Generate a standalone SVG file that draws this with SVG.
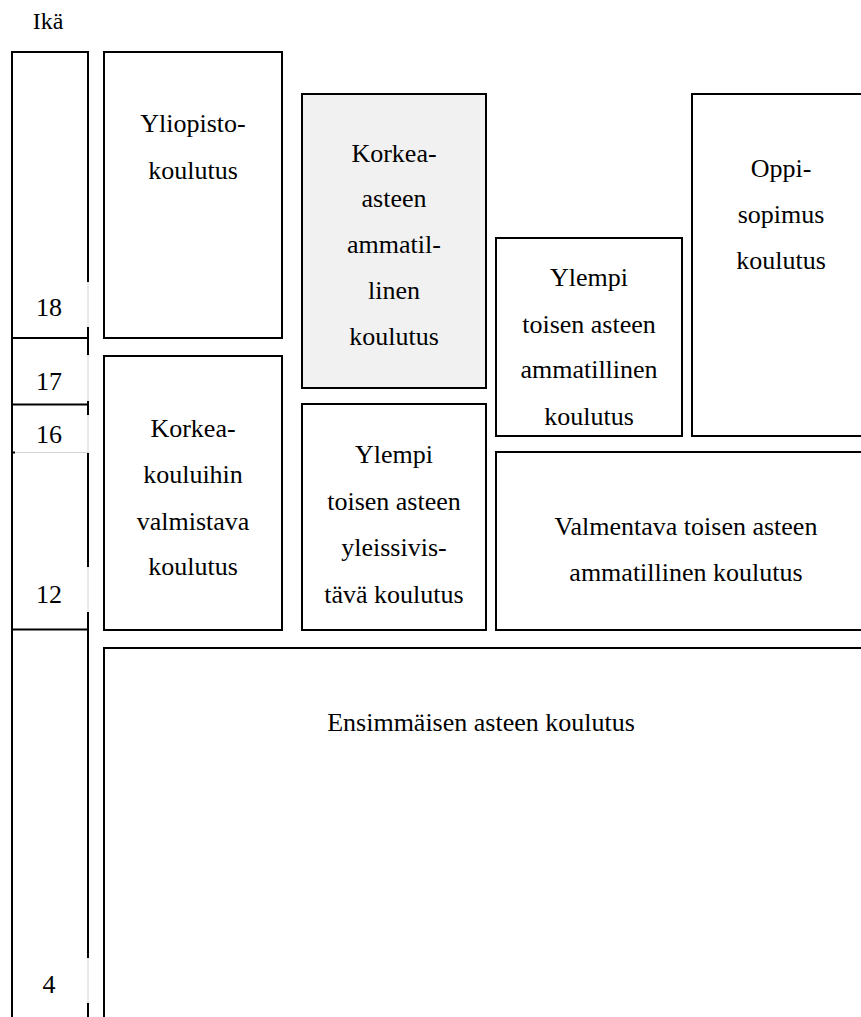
<svg xmlns="http://www.w3.org/2000/svg" width="861" height="1017" viewBox="0 0 861 1017" font-family="'Liberation Serif', 'Times New Roman', Times, 'DejaVu Serif', serif">
<style>
.b{fill:#fff;stroke:#000;stroke-width:2}
.g{fill:#f1f1f1;stroke:#000;stroke-width:2}
.l{stroke:#000;stroke-width:2;fill:none}
.gap{stroke:#d4d4d4;stroke-width:1;fill:none}
text{font-family:'Liberation Serif','Times New Roman',Times,'DejaVu Serif',serif;font-size:26px;fill:#000;text-anchor:middle}
.a{font-size:24px}
</style>
<rect width="861" height="1017" fill="#fff"/>
<g id="age">
<text class="a" x="48" y="29">Ikä</text>
<path class="l" d="M12,1017V52H88V282M88,327V355M88,401V415M88,453V567M88,612V958M88,1003V1017"/>
<path class="gap" d="M88,282V327M88,355V401M88,415V453M88,567V612M88,958V1003M15,452.5H88"/>
<path class="l" d="M12,338H88M12,404.5H89M12,629.5H88M12,452.5H15"/>
<text x="49" y="316">18</text>
<text x="49" y="390">17</text>
<text x="49" y="443">16</text>
<text x="49" y="603">12</text>
<text x="49" y="993">4</text>
</g>
<g id="yliopisto">
<rect class="b" x="104" y="52" width="178" height="286"/>
<text x="193" y="132">Yliopisto-</text>
<text x="193" y="179">koulutus</text>
</g>
<g id="korkeakouluihin">
<rect class="b" x="104" y="356" width="178" height="274"/>
<text x="193" y="437">Korkea-</text>
<text x="193" y="483">kouluihin</text>
<text x="193" y="530">valmistava</text>
<text x="193" y="575">koulutus</text>
</g>
<g id="korkea-asteen">
<rect class="g" x="302" y="94" width="184" height="294"/>
<text x="394" y="162">Korkea-</text>
<text x="394" y="207">asteen</text>
<text x="394" y="253">ammatil-</text>
<text x="394" y="299">linen</text>
<text x="394" y="345">koulutus</text>
</g>
<g id="yleissivistava">
<rect class="b" x="302" y="404" width="184" height="226"/>
<text x="394" y="463">Ylempi</text>
<text x="394" y="510">toisen asteen</text>
<text x="394" y="556">yleissivis-</text>
<text x="394" y="603">tävä koulutus</text>
</g>
<g id="ylempi-ammatillinen">
<rect class="b" x="496" y="238" width="186" height="198"/>
<text x="589" y="286">Ylempi</text>
<text x="589" y="333">toisen asteen</text>
<text x="589" y="378">ammatillinen</text>
<text x="589" y="425">koulutus</text>
</g>
<g id="oppisopimus">
<rect class="b" x="692" y="94" width="180" height="342"/>
<text x="781" y="177">Oppi-</text>
<text x="781" y="223">sopimus</text>
<text x="781" y="269">koulutus</text>
</g>
<g id="valmentava">
<rect class="b" x="496" y="452" width="376" height="178"/>
<text x="686" y="535">Valmentava toisen asteen</text>
<text x="686" y="581">ammatillinen koulutus</text>
</g>
<g id="ensimmaisen">
<rect class="b" x="104" y="648" width="768" height="380"/>
<text x="481" y="731">Ensimmäisen asteen koulutus</text>
</g>
<g id="connectors"></g>
</svg>
